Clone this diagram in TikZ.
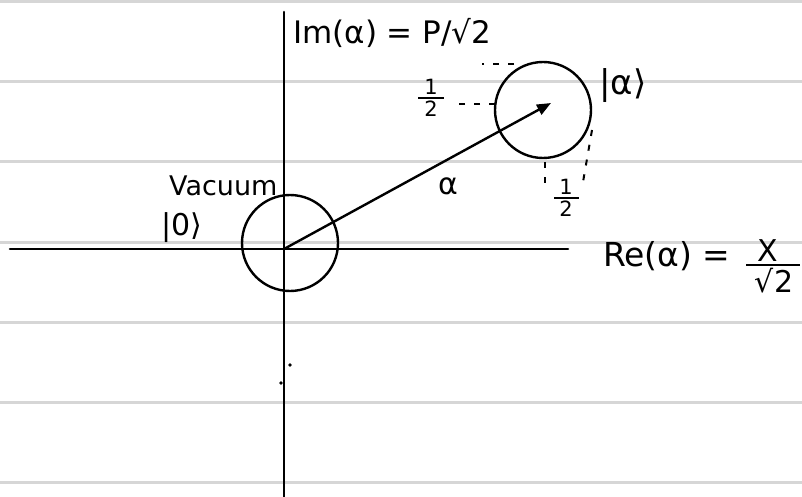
\documentclass[tikz,border=0pt]{standalone}
\usepackage{fontspec}
\setmainfont{DejaVu Sans}
\usetikzlibrary{arrows.meta,positioning}

\begin{document}
\begin{tikzpicture}[x=1pt,y=-1pt]
\tikzset{
  ruleline/.style={draw=black!16,line width=3pt},
  axisline/.style={draw=black,line width=2.6pt,line cap=round},
  blobnode/.style={circle,draw=black,line width=2.4pt,minimum size=96pt,inner sep=0pt},
  dimdash/.style={draw=black,line width=2pt,dash pattern=on 6pt off 9pt},
  vector/.style={draw=black,line width=2.4pt,-{Triangle[length=14pt,width=11pt]}},
  hand/.style={font=\fontsize{30}{34}\selectfont,inner sep=1pt},
  halfnode/.style={font=\fontsize{21}{22}\selectfont,inner sep=0pt},
  barline/.style={draw=black,line width=2pt},
  speck/.style={fill=black}
}
\useasboundingbox[fill=white] (0,0) rectangle (802,497);
% ruled paper
\foreach \ry in {2,82,162,242,322,402,482}
  \draw[ruleline] (0,\ry) -- (802,\ry);
% axes
\coordinate (origin) at (284,249);
\coordinate (x_left) at (10,249);
\coordinate (x_right) at (568,249);
\coordinate (y_top) at (284,12);
\coordinate (y_bot) at (284,497);
\draw[axisline] (x_left) -- (x_right);
\draw[axisline] (y_top) -- (y_bot);
% states
\node[blobnode] (n_vac) at (290,243) {};
\node[blobnode] (n_coh) at (543,110) {};
\coordinate (tip) at (551,103);
\draw[vector] (origin) -- (tip);
% labels
\node[hand,anchor=west,font=\fontsize{31}{34}\selectfont] (l_im) at (292,33) {Im(α) = P/√2};
\node[hand,anchor=west,font=\fontsize{34}{36}\selectfont] (l_ket) at (598,86) {|α⟩};
\node[hand,anchor=west,font=\fontsize{27}{30}\selectfont] (l_vac) at (168,186) {Vacuum};
\node[hand,anchor=west] (l_zero) at (160,228) {|0⟩};
\node[hand] (l_alpha) at (448,186) {α};
\node[hand,anchor=west,font=\fontsize{33}{36}\selectfont] (l_re) at (602,256) {Re(α) =};
\coordinate (re_bar_a) at (746,265);
\coordinate (re_bar_b) at (800,265);
\node[hand,anchor=south] (l_re_num) at (768,263) {X};
\node[hand,anchor=north] (l_re_den) at (774,267) {√2};
\draw[barline] (re_bar_a) -- (re_bar_b);
% one-half marks
\coordinate (hw_a) at (418,98);
\coordinate (hw_b) at (444,98);
\node[halfnode,anchor=south] (l_hw_num) at (431,95) {1};
\node[halfnode,anchor=north] (l_hw_den) at (431,101) {2};
\draw[barline] (hw_a) -- (hw_b);
\coordinate (hs_a) at (554,198);
\coordinate (hs_b) at (579,198);
\node[halfnode,anchor=south] (l_hs_num) at (566,195) {1};
\node[halfnode,anchor=north] (l_hs_den) at (566,201) {2};
\draw[barline] (hs_a) -- (hs_b);
% width marks
\coordinate (m_top_a) at (482,64);
\coordinate (m_top_b) at (514,64);
\coordinate (m_west) at (452,104);
\coordinate (m_west_c) at (495,104);
\coordinate (m_bot_a) at (545,162);
\coordinate (m_bot_b) at (545,186);
\coordinate (m_east_a) at (592,130);
\coordinate (m_east_b) at (583,182);
\draw[dimdash] (m_top_b) -- (m_top_a);
\draw[dimdash] (m_west_c) -- (m_west);
\draw[dimdash] (m_bot_a) -- (m_bot_b);
\draw[dimdash] (m_east_a) -- (m_east_b);
% stray pen marks
\fill[speck] (290,365) circle (1.8);
\fill[speck] (281,383) circle (1.8);
\end{tikzpicture}
\end{document}
